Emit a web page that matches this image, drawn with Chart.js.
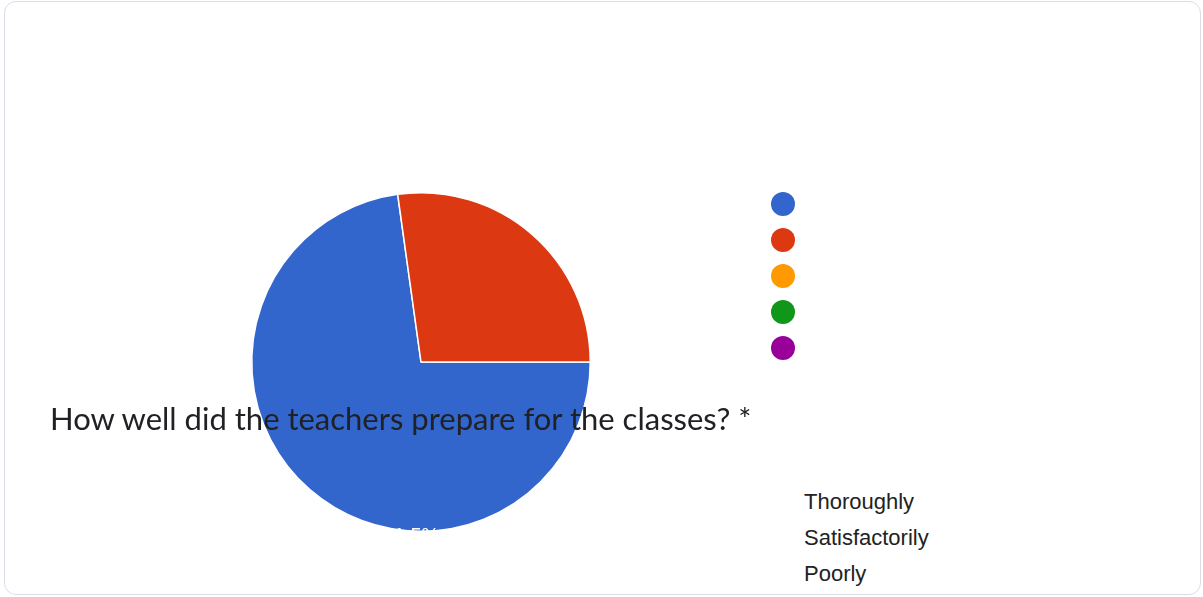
<!DOCTYPE html>
<html>
<head>
<meta charset="utf-8">
<script src="https://cdn.jsdelivr.net/npm/chart.js@4/dist/chart.umd.min.js"></script>
<style>
  html, body { margin: 0; padding: 0; background: #fff; }
  body { width: 1203px; height: 597px; position: relative; overflow: hidden; }
  .card {
    position: absolute; left: 4px; top: 1px; width: 1195px; height: 592px;
    border: 1px solid #dedbe6; border-radius: 12px; background: #fff;
  }
  #pieBox { position: absolute; left: 231px; top: 172px; width: 380px; height: 380px; }
  .title {
    position: absolute; left: 50px; top: 399px; z-index: 3; white-space: nowrap;
    font-family: Lato, "Open Sans", sans-serif; font-size: 31px; color: #202124;
  }
  .dot { position: absolute; width: 24px; height: 24px; border-radius: 50%; }
  .lbl {
    position: absolute; left: 804px; font-family: "Liberation Sans", Arial, sans-serif;
    font-size: 22px; color: #222; line-height: 24px;
  }
</style>
</head>
<body>
<div class="card"></div>
<div id="pieBox"><canvas id="pie"></canvas></div>
<div class="title">How well did the teachers prepare for the classes? *</div>
<div id="legend"></div>

<script>
// 📌 data
const answers = ["Thoroughly", "Satisfactorily", "Poorly"];
const shares = [72.8, 27.2, 0];
const sliceLabels = ["71.5%"];
const dotColors = ["#3366cc", "#dc3912", "#ff9900", "#109618", "#990099"];

// legend dots (no text next to them) and the answer list lower down
const legend = document.getElementById("legend");
dotColors.forEach((c, i) => {
    let d = document.createElement("div");
    d.className = "dot";
    d.style.background = c;
    d.style.left = "771px";
    d.style.top = (192 + i * 36) + "px";
    legend.appendChild(d);
});
answers.forEach((a, i) => {
    let t = document.createElement("div");
    t.className = "lbl";
    t.textContent = a;
    t.style.top = (490 + i * 36) + "px";
    legend.appendChild(t);
});

// ✅ white percentage text sitting at the bottom edge of the pie
const pctLabel = {
    id: "pctLabel",
    afterDatasetsDraw(chart) {
        const arc = chart.getDatasetMeta(0).data[0];
        if (!arc) return;
        const ctx = chart.ctx;
        ctx.save();
        ctx.fillStyle = "#ffffff";
        ctx.font = "20px 'Liberation Sans', Arial, sans-serif";
        ctx.textAlign = "center";
        ctx.textBaseline = "alphabetic";
        ctx.fillText(sliceLabels[0], arc.x - 10, arc.y + arc.outerRadius + 11);
        ctx.restore();
    }
};

new Chart(document.getElementById("pie").getContext("2d"), {
    type: "pie",
    data: {
        labels: answers,
        datasets: [{
            data: shares,
            backgroundColor: dotColors.slice(0, answers.length),
            borderColor: "#ffffff",
            borderWidth: 1.5
        }]
    },
    options: {
        responsive: true,
        maintainAspectRatio: false,
        animation: false,
        rotation: 90,
        layout: { padding: 20 },
        plugins: {
            legend: { display: false },
            tooltip: { enabled: false }
        }
    },
    plugins: [pctLabel]
});
</script>
</body>
</html>
